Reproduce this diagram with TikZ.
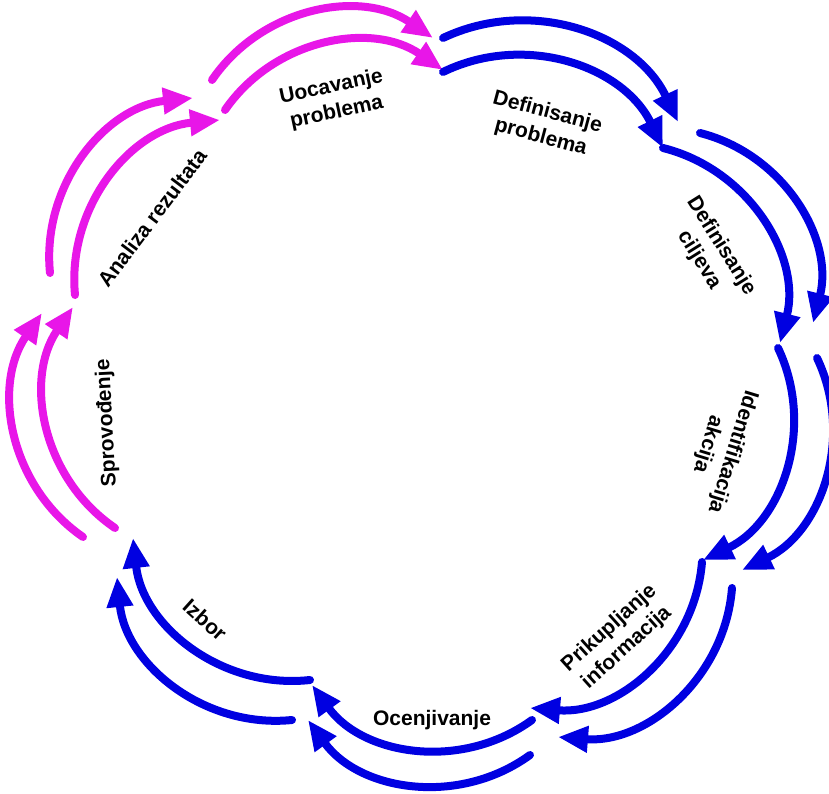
\documentclass[tikz,border=0pt]{standalone}
\usepackage{fontspec}
\setmainfont{Liberation Sans}
\usetikzlibrary{arrows.meta}
\definecolor{cycmag}{RGB}{232,22,232}
\definecolor{cycblue}{RGB}{0,0,225}
\begin{document}
\begin{tikzpicture}[x=1pt,y=1pt,
  flow/.style={line width=8pt, line cap=round,
    -{Triangle[length=30pt,width=25pt]}},
  phase/.style={font=\bfseries\fontsize{21}{26}\selectfont, align=center, text=black, inner sep=0pt}]
\useasboundingbox (0,0) rectangle (829,794);

% inner ring end points
\coordinate (uoc-is) at (225,684);  \coordinate (uoc-ie) at (443,724);
\coordinate (dfp-is) at (443,722);  \coordinate (dfp-ie) at (663,646);
\coordinate (dfc-is) at (663,646);  \coordinate (dfc-ie) at (780,451);
\coordinate (ida-is) at (778,446);  \coordinate (ida-ie) at (703,234);
\coordinate (pri-is) at (702,232);  \coordinate (pri-ie) at (530,86);
\coordinate (oce-is) at (532,74);   \coordinate (oce-ie) at (312,109);
\coordinate (izb-is) at (310,114);  \coordinate (izb-ie) at (133,256);
\coordinate (spr-is) at (115,266);  \coordinate (spr-ie) at (73,487);
\coordinate (ana-is) at (75,499);   \coordinate (ana-ie) at (220,674);
% outer ring end points
\coordinate (uoc-os) at (212,714);  \coordinate (uoc-oe) at (433,756);
\coordinate (dfp-os) at (443,756);  \coordinate (dfp-oe) at (678,672);
\coordinate (dfc-os) at (700,661);  \coordinate (dfc-oe) at (813,471);
\coordinate (ida-os) at (817,436);  \coordinate (ida-oe) at (742,224);
\coordinate (pri-os) at (732,206);  \coordinate (pri-oe) at (558,57);
\coordinate (oce-os) at (530,39);   \coordinate (oce-oe) at (308,74);
\coordinate (izb-os) at (292,74);   \coordinate (izb-oe) at (117,217);
\coordinate (spr-os) at (83,257);   \coordinate (spr-oe) at (42,481);
\coordinate (ana-os) at (50,521);   \coordinate (ana-oe) at (193,696);

% magenta phases
\foreach \p in {uoc,spr,ana}{
  \draw[flow, cycmag] (\p-is) to[bend left=45] (\p-ie);
  \draw[flow, cycmag] (\p-os) to[bend left=45] (\p-oe);
}
% blue phases
\foreach \p in {dfp,dfc,ida,pri,oce,izb}{
  \draw[flow, cycblue] (\p-is) to[bend left=45] (\p-ie);
  \draw[flow, cycblue] (\p-os) to[bend left=45] (\p-oe);
}

% phase labels
\node[phase, rotate=12]   (l-uoc) at (334,694) {Uocavanje\\problema};
\node[phase, rotate=-15]  (l-dfp) at (544,669) {Definisanje\\problema};
\node[phase, rotate=-58]  (l-dfc) at (710,541) {Definisanje\\ciljeva};
\node[phase, rotate=-107] (l-ida) at (720,346) {Identifikacija\\akcija};
\node[phase, rotate=42]   (l-pri) at (618,156) {Prikupljanje\\informacija};
\node[phase]              (l-oce) at (432,74)  {Ocenjivanje};
\node[phase, rotate=-42]  (l-izb) at (205,174) {Izbor};
\node[phase, rotate=93]   (l-spr) at (107,371) {Sprovođenje};
\node[phase, rotate=53]   (l-ana) at (152,576) {Analiza rezultata};
\end{tikzpicture}
\end{document}
